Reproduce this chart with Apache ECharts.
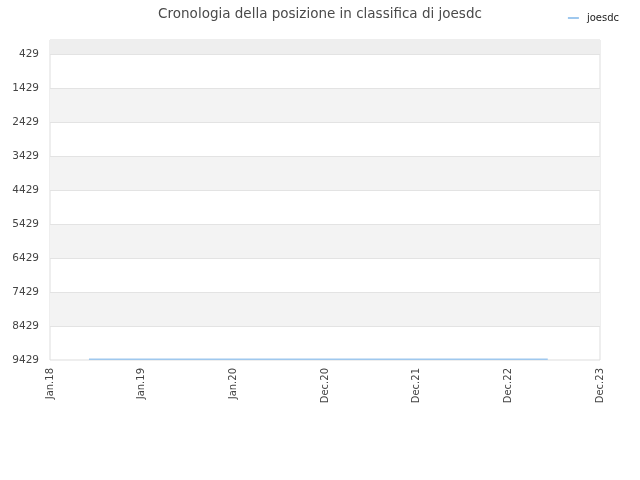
<!DOCTYPE html>
<html>
<head>
<meta charset="utf-8">
<script src="https://cdn.jsdelivr.net/npm/echarts@6/dist/echarts.min.js"></script>
<style>html,body{margin:0;padding:0;background:#fff}#c{width:640px;height:480px}</style>
</head>
<body>
<div id="c"></div>
<script>
var titleText = 'Cronologia della posizione in classifica di joesdc';
var seriesName = 'joesdc';
var xTickLabels = ['Jan.18', 'Jan.19', 'Jan.20', 'Dec.20', 'Dec.21', 'Dec.22', 'Dec.23'];
var yTicks = [429, 1429, 2429, 3429, 4429, 5429, 6429, 7429, 8429, 9429];
var yMin = 0;
var yMax = 9429;
// positions along the x axis (in label-index units) and ranks
var pointX = [0.425, 5.43];
var pointRank = [9410, 9410];

var data = pointX.map(function (x, i) { return [x, pointRank[i]]; });

var splitLines = yTicks.slice(0, yTicks.length - 1).map(function (t) { return { yAxis: t }; });
var bands = [[{ yAxis: yMin, itemStyle: { color: '#eeeeee' } }, { yAxis: yTicks[0] }]];
for (var i = 1; i < yTicks.length - 1; i += 2) {
  bands.push([{ yAxis: yTicks[i], itemStyle: { color: '#f3f3f3' } }, { yAxis: yTicks[i + 1] }]);
}

var chart = echarts.init(document.getElementById('c'));
chart.setOption({
  animation: false,
  backgroundColor: '#fff',
  title: {
    text: titleText,
    left: 'center',
    top: 2,
    textStyle: { fontFamily: 'DejaVu Sans', fontSize: 13.5, fontWeight: 'normal', color: '#4a4a4a' }
  },
  legend: {
    right: 16,
    top: 8,
    icon: 'rect',
    itemWidth: 11,
    itemHeight: 2,
    itemGap: 10,
    textStyle: { fontFamily: 'DejaVu Sans', fontSize: 10, color: '#222', padding: [0, 0, 0, 3] },
    data: [seriesName]
  },
  grid: { left: 50, right: 40, top: 40, bottom: 120, show: true, borderColor: '#ddd', borderWidth: 1, backgroundColor: 'transparent' },
  xAxis: {
    type: 'value',
    min: 0,
    max: xTickLabels.length - 1,
    interval: 1,
    axisLine: { show: false },
    axisTick: { show: false },
    splitLine: { show: false },
    axisLabel: {
      rotate: 90,
      fontFamily: 'DejaVu Sans',
      fontSize: 10,
      color: '#444',
      margin: 8,
      formatter: function (v) { return xTickLabels[Math.round(v)] || ''; }
    }
  },
  yAxis: {
    type: 'value',
    inverse: true,
    min: yMin,
    max: yMax,
    axisLine: { show: false },
    axisTick: { show: false },
    axisLabel: {
      customValues: yTicks,
      fontFamily: 'DejaVu Sans',
      fontSize: 10.5,
      color: '#444',
      margin: 11,
      formatter: function (v) { return String(v); }
    },
    splitLine: { show: false },
    splitArea: { show: false }
  },
  series: [{
    name: seriesName,
    type: 'line',
    data: data,
    showSymbol: false,
    symbol: 'none',
    z: 5,
    lineStyle: { color: '#9fc8ee', width: 1.5 },
    itemStyle: { color: '#9fc8ee' },
    markArea: { silent: true, data: bands },
    markLine: {
      silent: true,
      symbol: 'none',
      animation: false,
      label: { show: false },
      lineStyle: { color: '#e3e3e3', type: 'solid', width: 1 },
      emphasis: { disabled: true },
      data: splitLines
    }
  }]
});
</script>
</body>
</html>
